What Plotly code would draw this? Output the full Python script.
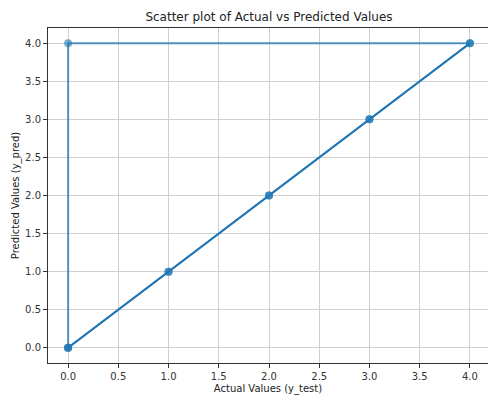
import plotly.graph_objects as go

y_test = [0, 1, 2, 3, 4, 0, 0]
y_pred = [0, 1, 2, 3, 4, 4, 0]
ideal = [min(y_test), max(y_test)]

blue = "#1f77b4"
font = "DejaVu Sans"

fig = go.Figure()
fig.add_trace(go.Scatter(
    x=y_test, y=y_pred, mode="lines+markers",
    line=dict(color="rgba(31,119,180,0.75)", width=2),
    marker=dict(color="rgba(31,119,180,0.6)", size=8),
    showlegend=False, cliponaxis=False))
fig.add_trace(go.Scatter(
    x=ideal, y=ideal, mode="lines",
    line=dict(color=blue, width=2), showlegend=False))
fig.add_trace(go.Scatter(
    x=y_test[:5], y=y_pred[:5], mode="markers",
    marker=dict(color="rgba(31,119,180,0.7)", size=8),
    showlegend=False))

axis_common = dict(
    showgrid=True, gridcolor="#cfcfcf", gridwidth=1,
    zeroline=False, showline=True, linecolor="#333333", linewidth=1,
    ticks="outside", ticklen=4, tickcolor="#333333",
    tickfont=dict(family=font, size=10, color="#333333"),
    tickformat=".1f", dtick=0.5,
)

fig.update_layout(
    width=488, height=396,
    margin=dict(l=48, r=0, t=28, b=33),
    plot_bgcolor="white", paper_bgcolor="white",
    title=dict(text="Scatter plot of Actual vs Predicted Values",
               x=269/488, xanchor="center", y=1-17/396, yanchor="middle",
               font=dict(family=font, size=12, color="#222222")),
    xaxis=dict(axis_common, range=[-0.2, 4.18], mirror=True,
               title=dict(text="Actual Values (y_test)", standoff=3,
                          font=dict(family=font, size=10, color="#222222"))),
    yaxis=dict(axis_common, range=[-0.2, 4.2],
               title=dict(text="Predicted Values (y_pred)", standoff=3,
                          font=dict(family=font, size=10, color="#222222"))),
)

fig.write_html("out.html")
